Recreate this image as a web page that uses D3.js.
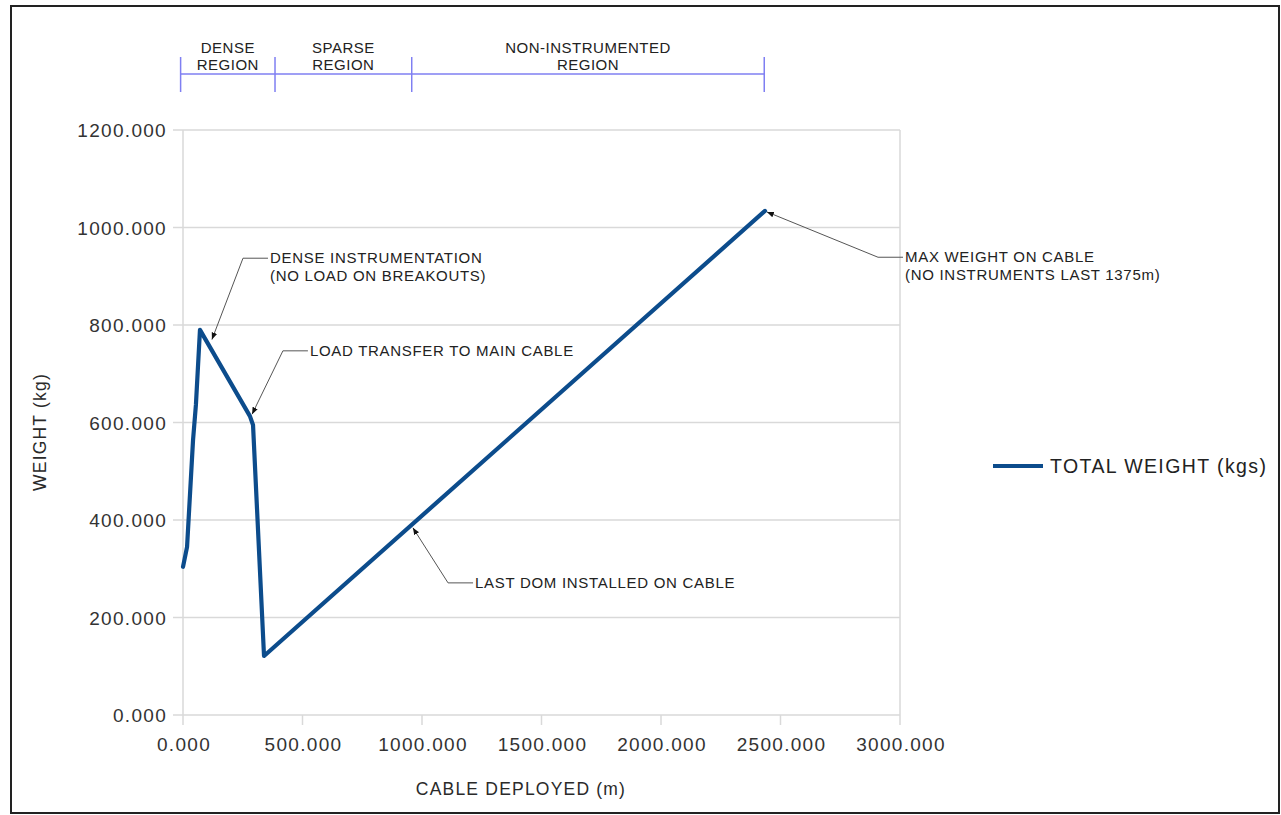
<!DOCTYPE html>
<html><head><meta charset="utf-8">
<script src="https://cdn.jsdelivr.net/npm/d3@7"></script>
<style>
html,body{margin:0;padding:0;background:#fff;}
text{font-family:"Liberation Sans",Arial,sans-serif;}
</style></head>
<body>
<svg id="chart" width="1281" height="815"></svg>
<script>
// ---- data ----
const cableDeployed = [0, 17, 42, 54, 71, 280, 293, 339, 2435];
const totalWeight   = [304, 345, 564, 636, 790, 613, 595, 121, 1034];
const xTicks = [0, 500, 1000, 1500, 2000, 2500, 3000];
const yTicks = [0, 200, 400, 600, 800, 1000, 1200];
const seriesName = "TOTAL WEIGHT (kgs)";
const regionBounds = [-10, 385, 957, 2432];
const regionLabels = [["DENSE","REGION"],["SPARSE","REGION"],["NON-INSTRUMENTED","REGION"]];
const annotations = [
  {lines:["DENSE INSTRUMENTATION","(NO LOAD ON BREAKOUTS)"], at:[121, 770], label:[364, 937]},
  {lines:["LOAD TRANSFER TO MAIN CABLE"], at:[289, 617], label:[531, 747]},
  {lines:["MAX WEIGHT ON CABLE","(NO INSTRUMENTS LAST 1375m)"], at:[2443, 1032], label:[3021, 939]},
  {lines:["LAST DOM INSTALLED ON CABLE"], at:[962, 384], label:[1222, 271]}
];

const svg = d3.select("#chart");
const x = d3.scaleLinear().domain([0,3000]).range([183,900]);
const y = d3.scaleLinear().domain([0,1200]).range([715,130]);

// frame
svg.append("rect").attr("x",11).attr("y",6).attr("width",1268).attr("height",807)
  .attr("fill","none").attr("stroke","#222").attr("stroke-width",2);

// gridlines
const grid = svg.append("g");
grid.selectAll("line.h").data(yTicks).join("line")
  .attr("x1",173).attr("x2",x(3000)).attr("y1",d=>y(d)).attr("y2",d=>y(d))
  .attr("stroke","#d9d9d9").attr("stroke-width",1.5);
grid.selectAll("line.v").data(xTicks).join("line")
  .attr("x1",d=>x(d)).attr("x2",d=>x(d))
  .attr("y1",d=> (d===0||d===3000)? y(1200) : y(0)).attr("y2",y(0)+10)
  .attr("stroke","#d9d9d9").attr("stroke-width",1.5);

// tick labels
svg.append("g").selectAll("text").data(yTicks).join("text")
  .attr("x",167).attr("y",d=>y(d)+7).attr("text-anchor","end")
  .style("font-size","19px").style("letter-spacing","1.3px").attr("fill","#333")
  .text(d=>d3.format(".3f")(d));
svg.append("g").selectAll("text").data(xTicks).join("text")
  .attr("x",d=>x(d)+1).attr("y",751).attr("text-anchor","middle")
  .style("font-size","19px").style("letter-spacing","1.3px").attr("fill","#333")
  .text(d=>d3.format(".3f")(d));

// axis titles
svg.append("text").attr("x",521).attr("y",795).attr("text-anchor","middle")
  .style("font-size","17.5px").style("letter-spacing","1.2px").attr("fill","#2a2a2a")
  .text("CABLE DEPLOYED (m)");
svg.append("text").attr("transform","translate(46,432) rotate(-90)").attr("text-anchor","middle")
  .style("font-size","17.5px").style("letter-spacing","1.2px").attr("fill","#2a2a2a")
  .text("WEIGHT (kg)");

// region bracket
const br = svg.append("g").attr("stroke","#7f7ff2").attr("stroke-width",1.5);
br.append("line").attr("x1",x(regionBounds[0])).attr("x2",x(regionBounds[3])).attr("y1",74).attr("y2",74);
br.selectAll("line.t").data(regionBounds).join("line")
  .attr("x1",d=>x(d)).attr("x2",d=>x(d)).attr("y1",57).attr("y2",92);
regionLabels.forEach((lab,i)=>{
  const cx = (x(regionBounds[i])+x(regionBounds[i+1]))/2;
  lab.forEach((t,j)=>{
    svg.append("text").attr("x",cx).attr("y",53+j*17).attr("text-anchor","middle")
      .style("font-size","15px").style("letter-spacing","0.5px").attr("fill","#222").text(t);
  });
});

// series line
const pts = cableDeployed.map((c,i)=>[c,totalWeight[i]]);
svg.append("path").datum(pts)
  .attr("fill","none").attr("stroke","#0c4c8c").attr("stroke-width",4.2)
  .attr("stroke-linejoin","round").attr("stroke-linecap","round")
  .attr("d", d3.line().x(d=>x(d[0])).y(d=>y(d[1])));

// annotations
svg.append("defs").append("marker").attr("id","arr").attr("viewBox","0 0 10 10")
  .attr("refX",10).attr("refY",5).attr("markerWidth",7).attr("markerHeight",7)
  .attr("orient","auto").attr("markerUnits","userSpaceOnUse")
  .append("path").attr("d","M0,1 L10,5 L0,9 z").attr("fill","#111");
annotations.forEach(a=>{
  const lx = x(a.label[0]), ly = y(a.label[1]);
  const px = x(a.at[0]), py = y(a.at[1]);
  svg.append("path").attr("d",`M${lx-2},${ly} L${lx-27},${ly} L${px},${py}`)
    .attr("fill","none").attr("stroke","#555").attr("stroke-width",1)
    .attr("marker-end","url(#arr)");
  a.lines.forEach((t,j)=>{
    svg.append("text").attr("x",lx).attr("y",ly+5+j*18)
      .style("font-size","15px").style("letter-spacing","0.7px").attr("fill","#222").text(t);
  });
});

// legend
svg.append("line").attr("x1",993).attr("x2",1043).attr("y1",466).attr("y2",466)
  .attr("stroke","#0c4c8c").attr("stroke-width",4.2);
svg.append("text").attr("x",1050).attr("y",473)
  .style("font-size","19.5px").style("letter-spacing","1.4px").attr("fill","#222").text(seriesName);
</script>
</body></html>
